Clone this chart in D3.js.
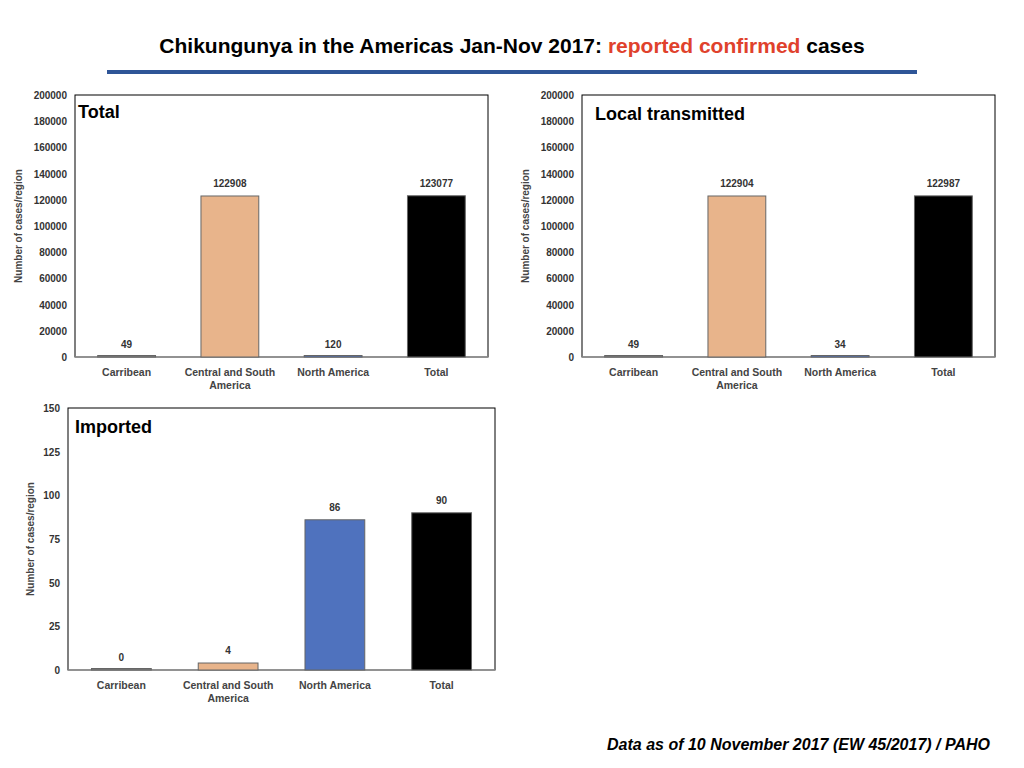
<!DOCTYPE html>
<html><head><meta charset="utf-8">
<script src="https://cdn.jsdelivr.net/npm/d3@7"></script>
<style>body{margin:0;background:#fff;font-family:"Liberation Sans",Arial,sans-serif}</style>
</head><body>
<script>
var categories = ["Carribean", "Central and South America", "North America", "Total"];
var totalCases = [49, 122908, 120, 123077];
var localCases = [49, 122904, 34, 122987];
var importedCases = [0, 4, 86, 90];
var bigTicks = [0,20000,40000,60000,80000,100000,120000,140000,160000,180000,200000];
var smallTicks = [0,25,50,75,100,125,150];
var colors = ["#7f7f7f", "#e8b48b", "#4f72be", "#000000"];

var svg = d3.select("body").append("svg").attr("width",1024).attr("height",768);

svg.append("text").attr("x",512).attr("y",53).attr("text-anchor","middle")
  .style("font-size","21px").style("font-weight","bold")
  .call(function(t){
    t.append("tspan").text("Chikungunya in the Americas Jan-Nov 2017: ");
    t.append("tspan").attr("fill","#e0412c").text("reported confirmed");
    t.append("tspan").text(" cases");
  });
svg.append("line").attr("x1",107).attr("x2",917).attr("y1",72).attr("y2",72)
  .attr("stroke","#2e5597").attr("stroke-width",4);

function panel(o){
  var g = svg.append("g");
  var x = d3.scaleBand().domain(categories).range([o.x0,o.x1]).paddingInner(0.44).paddingOuter(0.22);
  var y = d3.scaleLinear().domain([0,o.max]).range([o.y1,o.y0]);
  g.append("rect").attr("x",o.x0).attr("y",o.y0).attr("width",o.x1-o.x0).attr("height",o.y1-o.y0)
    .attr("fill","none").attr("stroke","#000").attr("stroke-width",1);
  g.append("line").attr("x1",o.x0).attr("x2",o.x1).attr("y1",o.y1).attr("y2",o.y1)
    .attr("stroke","#999").attr("stroke-width",1.5);
  g.selectAll(".tk").data(o.ticks).enter().append("text")
    .attr("x",o.x0-8).attr("y",function(d){return y(d)+4;}).attr("text-anchor","end")
    .style("font-size","10px").style("font-weight","bold").attr("fill","#333").text(function(d){return d;});
  g.selectAll(".bar").data(o.values).enter().append("rect")
    .attr("x",function(d,i){return x(categories[i]);}).attr("width",x.bandwidth())
    .attr("y",function(d){return Math.min(y(d),o.y1-1.5);})
    .attr("height",function(d){return Math.max(o.y1-y(d),1.5);})
    .attr("fill",function(d,i){return colors[i];}).attr("stroke","#666").attr("stroke-width",1);
  g.selectAll(".vl").data(o.values).enter().append("text")
    .attr("x",function(d,i){return x(categories[i])+x.bandwidth()/2;})
    .attr("y",function(d){return y(d)-9;}).attr("text-anchor","middle")
    .style("font-size","10px").style("font-weight","bold").attr("fill","#333").text(function(d){return d;});
  categories.forEach(function(c){
    var lines = c=="Central and South America" ? ["Central and South","America"] : [c];
    lines.forEach(function(l,j){
      g.append("text").attr("x",x(c)+x.bandwidth()/2).attr("y",o.y1+19+j*13).attr("text-anchor","middle")
        .style("font-size","10.5px").style("font-weight","bold").attr("fill","#444").text(l);
    });
  });
  g.append("text").attr("transform","translate("+o.tx+","+((o.y0+o.y1)/2)+") rotate(-90)")
    .attr("text-anchor","middle").style("font-size","10px").style("font-weight","bold").attr("fill","#444")
    .text("Number of cases/region");
  g.append("text").attr("x",o.lx).attr("y",o.ly).style("font-size","18px").style("font-weight","bold").text(o.title);
}

panel({x0:75,x1:488,y0:95,y1:357,max:200000,ticks:bigTicks,values:totalCases,tx:22,title:"Total",lx:78,ly:118});
panel({x0:582,x1:995,y0:95,y1:357,max:200000,ticks:bigTicks,values:localCases,tx:529,title:"Local transmitted",lx:595,ly:120});
panel({x0:68,x1:495,y0:408,y1:670,max:150,ticks:smallTicks,values:importedCases,tx:34,title:"Imported",lx:75,ly:433});

svg.append("text").attr("x",990).attr("y",750).attr("text-anchor","end")
  .style("font-size","16px").style("font-weight","bold").style("font-style","italic")
  .text("Data as of 10 November 2017 (EW 45/2017) / PAHO");
</script>
</body></html>
